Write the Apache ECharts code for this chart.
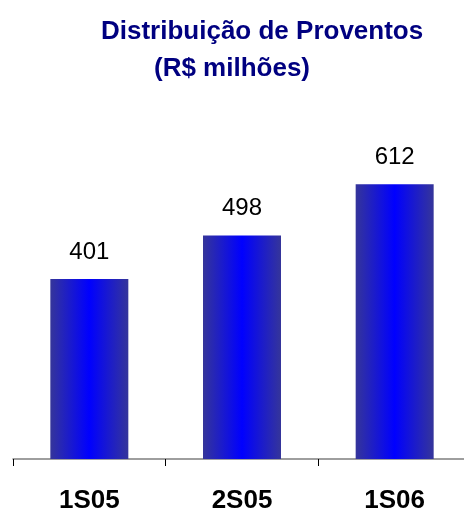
<!DOCTYPE html>
<html>
<head>
<meta charset="utf-8">
<script src="https://cdn.jsdelivr.net/npm/echarts@6/dist/echarts.min.js"></script>
<style>html,body{margin:0;padding:0;background:#fff;}#c{width:464px;height:510px;}</style>
</head>
<body>
<div id="c"></div>
<script>
const categories = ['1S05', '2S05', '1S06'];
const values = [401, 498, 612];
const titleLine1 = 'Distribuição de Proventos';
const titleLine2 = '(R$ milhões)';

const chart = echarts.init(document.getElementById('c'), null, {renderer: 'canvas'});
const barColor = new echarts.graphic.LinearGradient(0, 0, 1, 0, [
  {offset: 0, color: '#35359a'},
  {offset: 0.5, color: '#0000ff'},
  {offset: 1, color: '#35359a'}
]);
chart.setOption({
  animation: false,
  backgroundColor: '#ffffff',
  title: [
    {text: titleLine1, left: 96, top: 14,
     textStyle: {fontFamily: 'Liberation Sans, Arial, sans-serif', fontWeight: 'bold', fontSize: 26, color: '#000080'}},
    {text: titleLine2, left: 149, top: 51,
     textStyle: {fontFamily: 'Liberation Sans, Arial, sans-serif', fontWeight: 'bold', fontSize: 26, color: '#000080'}}
  ],
  grid: {left: 13, right: -7, top: 100, bottom: 51, containLabel: false, outerBoundsMode: 'none'},
  xAxis: {
    type: 'category',
    data: categories,
    boundaryGap: true,
    axisLine: {lineStyle: {color: '#7f7f7f', width: 1.5}},
    axisTick: {show: true, length: 7, lineStyle: {color: '#000000', width: 1}},
    axisLabel: {margin: 29, fontFamily: 'Liberation Sans, Arial, sans-serif', fontWeight: 'bold', fontSize: 26, color: '#000000'}
  },
  yAxis: {type: 'value', min: 0, max: 800, show: false, splitLine: {show: false}},
  series: [{
    type: 'bar',
    data: values,
    barWidth: 78,
    itemStyle: {color: barColor},
    label: {show: true, position: 'top', distance: 15,
      fontFamily: 'Liberation Sans, Arial, sans-serif', fontSize: 24, color: '#000000'}
  }]
});
</script>
</body>
</html>
